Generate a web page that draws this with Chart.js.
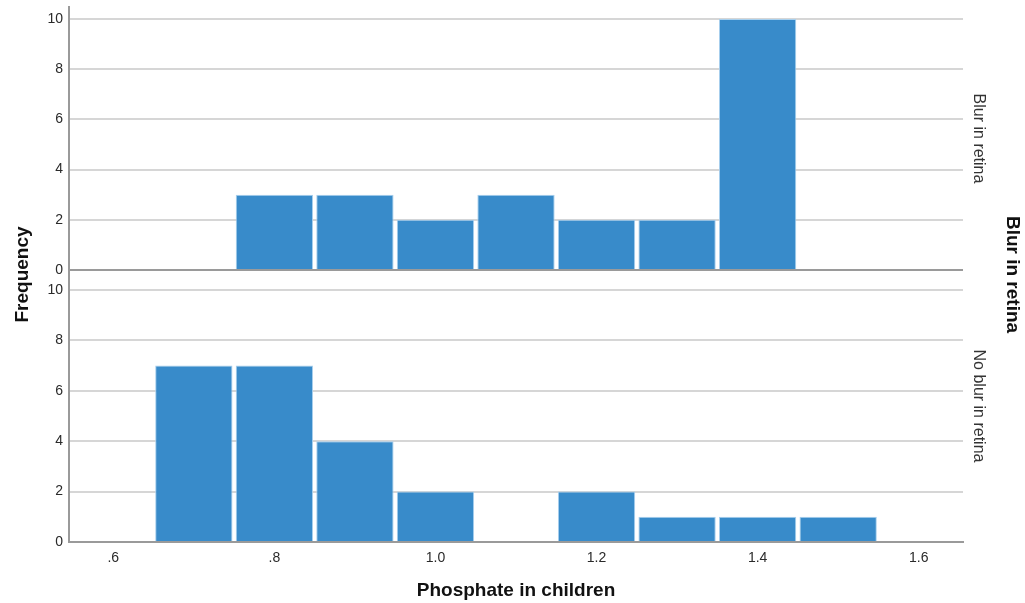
<!DOCTYPE html>
<html>
<head>
<meta charset="utf-8">
<script src="https://cdn.jsdelivr.net/npm/chart.js@4/dist/chart.umd.min.js"></script>
<style>
  html, body { margin: 0; padding: 0; background: #fff; }
  #wrap { width: 1025px; height: 603px; position: relative; }
</style>
</head>
<body>
<div id="wrap"><canvas id="chart"></canvas></div>
<script>
// histogram bins (centre of each 0.1 wide bin)
const binCenters = [0.7, 0.8, 0.9, 1.0, 1.1, 1.2, 1.3, 1.4, 1.5];
const blurCounts = [0, 3, 3, 2, 3, 2, 2, 10, 0];
const noBlurCounts = [7, 7, 4, 2, 0, 2, 1, 1, 1];

const xTickValues = [0.6, 0.8, 1.0, 1.2, 1.4, 1.6];
const xTickLabels = [".6", ".8", "1.0", "1.2", "1.4", "1.6"];
const yTickValues = [0, 2, 4, 6, 8, 10];

const panelLabels = ["Blur in retina", "No blur in retina"];
const xTitle = "Phosphate in children";
const yTitle = "Frequency";
const facetTitle = "Blur in retina";

const FONT = "'Liberation Sans', Arial, sans-serif";
const BAR = "#388bca";
const TICK = "#2a2a2a";

function toPoints(counts) {
  return binCenters.map((x, i) => ({ x, y: counts[i] }));
}

function setTicks(values) {
  return scale => { scale.ticks = values.map(v => ({ value: v })); };
}

function gridColor(ctx) {
  return ctx.tick && ctx.tick.value === 0 ? "#9a9a9a" : "#d6d6d6";
}

function panelAxis(max, weight, stackWeight) {
  return {
    type: "linear",
    position: "left",
    stack: "panels",
    stackWeight,
    weight,
    min: 0,
    max,
    afterBuildTicks: setTicks(yTickValues),
    afterFit: s => { s.width = 22; s.paddingTop = 0; s.paddingBottom = 0; },
    ticks: { color: TICK, font: { family: FONT, size: 14 }, padding: 6 },
    grid: { color: gridColor, lineWidth: 2, drawTicks: false },
    border: { color: "#9a9a9a", width: 2 }
  };
}

function labelAxis(position, text, opts) {
  return Object.assign({
    type: "linear",
    position,
    min: 0,
    max: 1,
    ticks: { display: false },
    grid: { display: false, drawTicks: false },
    border: { display: false }
  }, opts, {
    title: Object.assign({ display: true, text, color: "#111" }, opts.title)
  });
}

const barStyle = {
  backgroundColor: BAR,
  borderColor: "#a8d0ee",
  borderWidth: ctx => (ctx.raw && ctx.raw.y > 0 ? 1 : 0),
  barPercentage: 0.96,
  categoryPercentage: 1,
  grouped: false
};

new Chart(document.getElementById("chart"), {
  type: "bar",
  data: {
    datasets: [
      Object.assign({ label: panelLabels[0], data: toPoints(blurCounts), yAxisID: "yTop" }, barStyle),
      Object.assign({ label: panelLabels[1], data: toPoints(noBlurCounts), yAxisID: "yBottom" }, barStyle)
    ]
  },
  options: {
    responsive: true,
    maintainAspectRatio: false,
    animation: false,
    layout: { padding: { top: 7, left: 0, right: 0, bottom: 0 } },
    plugins: { legend: { display: false }, tooltip: { enabled: false } },
    scales: {
      x: {
        type: "linear",
        offset: false,
        min: 0.545,
        max: 1.655,
        afterBuildTicks: setTicks(xTickValues),
        afterFit: s => { s.height = 61; s.paddingLeft = 0; s.paddingRight = 0; },
        ticks: {
          color: TICK,
          font: { family: FONT, size: 14 },
          padding: 8,
          callback: (v, i) => xTickLabels[i]
        },
        grid: { display: false, drawTicks: false, offset: false },
        border: { color: "#9a9a9a", width: 2 },
        title: {
          display: true,
          text: xTitle,
          color: "#111",
          font: { family: FONT, size: 19, weight: "bold" },
          padding: { top: 0, bottom: 1 }
        }
      },
      yTop: panelAxis(10.48, 2, 263),
      yBottom: panelAxis(10.79, 1, 272),
      yLabel: labelAxis("left", yTitle, {
        weight: 10,
        afterFit: s => { s.width = 47; s.paddingTop = 0; s.paddingBottom = 0; },
        title: { font: { family: FONT, size: 19, weight: "bold" }, padding: { top: 11, bottom: 0 } }
      }),
      yTopR: labelAxis("right", panelLabels[0], {
        stack: "right",
        stackWeight: 263,
        weight: 1,
        afterFit: s => { s.width = 30; s.paddingTop = 0; s.paddingBottom = 0; },
        title: { color: "#333", font: { family: FONT, size: 16 }, padding: { top: 5, bottom: 0 } }
      }),
      yBottomR: labelAxis("right", panelLabels[1], {
        stack: "right",
        stackWeight: 272,
        weight: 2,
        afterFit: s => { s.width = 30; s.paddingTop = 0; s.paddingBottom = 0; },
        title: { color: "#333", font: { family: FONT, size: 16 }, padding: { top: 5, bottom: 0 } }
      }),
      yFacet: labelAxis("right", facetTitle, {
        weight: 10,
        afterFit: s => { s.width = 32; s.paddingTop = 0; s.paddingBottom = 0; },
        title: { font: { family: FONT, size: 19, weight: "bold" }, padding: { top: 1, bottom: 0 } }
      })
    }
  }
});
</script>
</body>
</html>
